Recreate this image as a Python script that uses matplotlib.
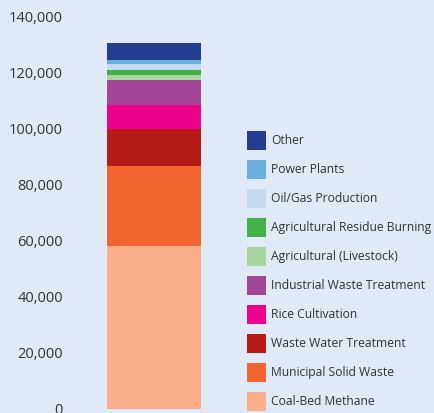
import matplotlib.pyplot as plt
from matplotlib.patches import Patch
from matplotlib.ticker import FuncFormatter

# Methane emission sources, bottom to top of the stacked bar
sources = ['Coal-Bed Methane', 'Municipal Solid Waste', 'Waste Water Treatment',
           'Rice Cultivation', 'Industrial Waste Treatment', 'Agricultural (Livestock)',
           'Agricultural Residue Burning', 'Oil/Gas Production', 'Power Plants', 'Other']
values = [58100, 28800, 13200, 8600, 8900, 1700, 1800, 2200, 1400, 6000]
colors = ['#fbae8b', '#f26531', '#b51c17', '#ec008c', '#a34596', '#a8d5a0',
          '#43b049', '#c3daf0', '#6aaee0', '#233e8f']
yticks = [0, 20000, 40000, 60000, 80000, 100000, 120000, 140000]

bg = '#dfeaf6'
txt = '#333333'

fig = plt.figure(figsize=(4.34, 4.13), dpi=100, facecolor=bg)
ax = fig.add_axes([70 / 434, 4 / 413, 168 / 434, (409 - 17) / 413])
ax.set_facecolor(bg)

bottom = 0
for name, val, col in zip(sources, values, colors):
    ax.bar(0, val, width=1.12, bottom=bottom, color=col, label=name)
    bottom += val

ax.set_xlim(-1, 1)
ax.set_ylim(0, 140000)
ax.set_yticks(yticks)
ax.yaxis.set_major_formatter(FuncFormatter(lambda v, p: f'{int(v):,}'))
ax.set_xticks([])
ax.tick_params(axis='y', length=0, pad=5, labelsize=10.5, labelcolor=txt)
for lbl in ax.get_yticklabels():
    lbl.set_family('Open Sans')
for s in ax.spines.values():
    s.set_visible(False)

# legend: top entry is Other, bottom is Coal-Bed Methane
handles = [Patch(facecolor=c, edgecolor='none') for c in colors[::-1]]
leg = fig.legend(handles, sources[::-1], loc='upper left',
                 bbox_to_anchor=(247 / 434, 1 - 131 / 413), frameon=False,
                 borderpad=0, borderaxespad=0, handlelength=1.55, handleheight=2.02,
                 handletextpad=0.45, labelspacing=0.84,
                 prop={'family': 'Open Sans', 'size': 8.7})
for t in leg.get_texts():
    t.set_color(txt)

fig.savefig('out.png', dpi=100, facecolor=bg)
